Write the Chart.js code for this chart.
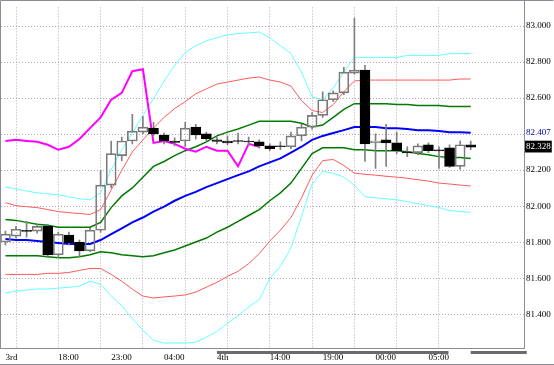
<!DOCTYPE html>
<html><head><meta charset="utf-8">
<script src="https://cdn.jsdelivr.net/npm/chart.js@4/dist/chart.umd.min.js"></script>
<style>html,body{margin:0;padding:0;background:#fff;overflow:hidden}canvas{display:block}</style>
</head><body>
<canvas id="c" width="554" height="365"></canvas>
<script>
// ---- tick labels / categories ----
const timeLabels = ['3rd','18:00','23:00','04:00','4th','14:00','19:00','00:00','05:00'];
const labelIndex = [0,5,10,15,20,25,30,35,40];
const gridIndex  = [1,5,9,13,17,21,25,29,33,37,41];
const yTicks = [81.4,81.6,81.8,82.0,82.2,82.4,82.6,82.8,83.0];
const sessionBars = [[20,41.9],[44,49.3]];

// ---- hourly candles ----
const opens  = [81.801,81.834,81.861,81.861,81.888,81.730,81.839,81.801,81.752,81.866,82.117,82.281,82.362,82.411,82.433,82.395,82.362,82.362,82.439,82.401,82.368,82.362,82.360,82.357,82.357,82.335,82.330,82.330,82.390,82.439,82.504,82.591,82.629,82.738,82.755,82.351,82.368,82.351,82.297,82.297,82.341,82.308,82.324,82.221,82.341];
const highs  = [81.861,81.888,81.916,81.899,81.899,81.856,81.856,81.812,81.877,82.199,82.362,82.384,82.510,82.499,82.466,82.406,82.379,82.466,82.455,82.411,82.384,82.390,82.406,82.384,82.368,82.346,82.357,82.411,82.455,82.520,82.635,82.640,82.771,83.044,82.782,82.401,82.455,82.411,82.330,82.346,82.351,82.330,82.341,82.362,82.362];
const lows   = [81.785,81.823,81.828,81.850,81.714,81.714,81.785,81.719,81.747,81.856,82.101,82.253,82.346,82.401,82.390,82.346,82.335,82.330,82.373,82.362,82.346,82.341,82.346,82.335,82.324,82.308,82.313,82.319,82.362,82.428,82.493,82.580,82.619,82.733,82.248,82.210,82.221,82.292,82.275,82.286,82.297,82.210,82.215,82.204,82.313];
const closes = [81.845,81.872,81.860,81.888,81.730,81.845,81.796,81.752,81.866,82.117,82.292,82.362,82.417,82.439,82.401,82.362,82.354,82.433,82.395,82.373,82.360,82.351,82.359,82.356,82.335,82.319,82.330,82.390,82.439,82.504,82.591,82.629,82.744,82.755,82.346,82.362,82.351,82.308,82.296,82.335,82.308,82.307,82.221,82.341,82.328];

// ---- Bollinger bands ----
const sma = [81.817,81.812,81.812,81.806,81.801,81.796,81.790,81.790,81.790,81.812,81.845,81.877,81.910,81.937,81.970,81.997,82.030,82.057,82.079,82.106,82.128,82.150,82.172,82.193,82.221,82.243,82.265,82.297,82.330,82.368,82.390,82.406,82.422,82.439,82.439,82.439,82.433,82.433,82.428,82.422,82.422,82.417,82.411,82.411,82.407];
const up1 = [81.926,81.921,81.910,81.899,81.894,81.883,81.883,81.883,81.883,81.910,81.992,82.057,82.101,82.161,82.221,82.248,82.281,82.308,82.330,82.357,82.390,82.411,82.428,82.450,82.471,82.471,82.471,82.471,82.460,82.439,82.450,82.493,82.537,82.569,82.569,82.569,82.569,82.564,82.564,82.559,82.559,82.559,82.553,82.553,82.553];
const dn1 = [81.725,81.725,81.725,81.725,81.719,81.714,81.714,81.719,81.730,81.747,81.741,81.730,81.725,81.719,81.725,81.741,81.757,81.779,81.801,81.823,81.856,81.883,81.916,81.948,81.981,82.030,82.074,82.128,82.210,82.292,82.324,82.324,82.324,82.313,82.313,82.308,82.308,82.308,82.302,82.292,82.286,82.275,82.270,82.270,82.264];
const up2 = [82.019,82.003,81.997,81.992,81.981,81.970,81.964,81.959,81.954,81.981,82.090,82.199,82.302,82.368,82.433,82.493,82.542,82.580,82.624,82.651,82.678,82.689,82.700,82.711,82.717,82.700,82.689,82.667,82.586,82.531,82.520,82.564,82.635,82.695,82.700,82.700,82.700,82.700,82.700,82.700,82.700,82.700,82.700,82.706,82.706];
const dn2 = [81.621,81.621,81.621,81.621,81.627,81.627,81.632,81.643,81.654,81.654,81.621,81.583,81.539,81.501,81.490,81.496,81.501,81.507,81.523,81.550,81.577,81.610,81.638,81.681,81.736,81.806,81.866,81.937,82.046,82.172,82.253,82.259,82.226,82.183,82.177,82.172,82.166,82.161,82.155,82.147,82.139,82.128,82.123,82.117,82.112];
const up3 = [82.106,82.095,82.084,82.074,82.068,82.063,82.052,82.041,82.035,82.074,82.204,82.313,82.406,82.504,82.597,82.695,82.782,82.853,82.891,82.918,82.935,82.951,82.959,82.962,82.967,82.935,82.891,82.847,82.744,82.608,82.591,82.657,82.744,82.826,82.826,82.826,82.826,82.826,82.837,82.837,82.837,82.837,82.847,82.847,82.847];
const dn3 = [81.518,81.529,81.534,81.540,81.540,81.545,81.550,81.556,81.583,81.567,81.501,81.447,81.376,81.311,81.256,81.240,81.240,81.240,81.245,81.272,81.305,81.349,81.392,81.441,81.480,81.599,81.665,81.768,81.943,82.123,82.193,82.183,82.161,82.117,82.052,82.046,82.041,82.035,82.025,82.014,82.003,81.992,81.975,81.970,81.965];
// ---- lagging line ----
const lagging = [82.362,82.368,82.362,82.357,82.341,82.313,82.330,82.373,82.433,82.493,82.591,82.629,82.749,82.760,82.351,82.362,82.346,82.319,82.302,82.330,82.308,82.308,82.221,82.346,82.330];

const lastClose = closes[closes.length-1];
const lastSma = sma[sma.length-1];

const pts = arr => arr.map((v,k)=>({x:k,y:v}));
const isUp = i => closes[i] > opens[i];
const bodyTop = i => Math.max(opens[i],closes[i]);
const bodyBot = i => Math.min(opens[i],closes[i]);

const lineDs = (arr,color,w,order)=>({type:'line',data:pts(arr),borderColor:color,borderWidth:w,pointRadius:0,tension:0,order:order,fill:false});

const xTickVals = Array.from(new Set([...labelIndex,...gridIndex])).sort((a,b)=>a-b);
const yTickVals = [...yTicks, lastClose, lastSma].sort((a,b)=>a-b);
const GRID = '#b8a4b8';

const framePlugin = {
  id:'frame',
  afterDraw(chart){
    const {ctx, chartArea:a, scales:{x}} = chart;
    ctx.save();
    ctx.strokeStyle='#8c8c98'; ctx.lineWidth=1;
    ctx.beginPath();
    ctx.moveTo(0.5,0.5); ctx.lineTo(553.5,0.5);
    ctx.moveTo(0.5,0.5); ctx.lineTo(0.5,a.bottom+0.5);
    ctx.moveTo(Math.round(a.right)+0.5,0); ctx.lineTo(Math.round(a.right)+0.5,a.bottom+0.5);
    ctx.moveTo(0,Math.round(a.bottom)+0.5); ctx.lineTo(Math.round(a.right)+1,Math.round(a.bottom)+0.5);
    ctx.moveTo(0,364.5); ctx.lineTo(554,364.5);
    ctx.stroke();
    ctx.strokeStyle='#6a6a6a'; ctx.lineWidth=3;
    ctx.beginPath();
    sessionBars.forEach(([s,e])=>{
      const x1 = x.getPixelForValue(s), x2 = Math.min(x.getPixelForValue(e), 528);
      ctx.moveTo(x1, a.bottom+4.5); ctx.lineTo(x2, a.bottom+4.5);
    });
    ctx.stroke();
    ctx.restore();
  }
};

Chart.defaults.font.family = '"Liberation Serif", serif';
Chart.defaults.font.size = 9;
Chart.defaults.color = '#000';

new Chart(document.getElementById('c'),{
  type:'bar',
  data:{datasets:[
    {type:'bar',data:opens.map((o,i)=>({x:i,y:[bodyBot(i),bodyTop(i)]})),
      backgroundColor:ctx=>isUp(ctx.dataIndex)?'rgba(255,255,255,0)':'#000',
      borderColor:ctx=>isUp(ctx.dataIndex)?'#7a7a7a':'#000',
      borderWidth:1,borderSkipped:false,barThickness:10,minBarLength:1,grouped:false,order:0},
    {type:'bar',data:highs.map((h,i)=>({x:i,y:[bodyTop(i),h]})),
      backgroundColor:'#808080',borderWidth:0,barThickness:1,grouped:false,order:1},
    {type:'bar',data:lows.map((l,i)=>({x:i,y:[l,bodyBot(i)]})),
      backgroundColor:'#808080',borderWidth:0,barThickness:1,grouped:false,order:1},
    lineDs(lagging,'#ff00ff',2,2),
    lineDs(sma,'#0000ff',2,3),
    lineDs(up1,'#007a00',1.5,4),
    lineDs(dn1,'#007a00',1.5,4),
    lineDs(up2,'#ff5a5a',1,5),
    lineDs(dn2,'#ff5a5a',1,5),
    lineDs(up3,'#66ffff',1,6),
    lineDs(dn3,'#66ffff',1,6)
  ]},
  options:{
    responsive:false,animation:false,
    layout:{padding:{left:1,top:1,right:0,bottom:0}},
    plugins:{legend:{display:false},tooltip:{enabled:false}},
    scales:{
      x:{type:'linear',min:-0.42,max:49.04,offset:false,
        afterBuildTicks:s=>{s.ticks = xTickVals.map(v=>({value:v}));},
        afterFit:s=>{s.height=17;},
        grid:{offset:false,color:c=>gridIndex.includes(c.tick && c.tick.value)?GRID:'rgba(0,0,0,0)',drawTicks:false,lineWidth:1},
        border:{display:false,dash:[1,2]},
        ticks:{autoSkip:false,maxRotation:0,align:'start',padding:4,
          callback:v=>{const j=labelIndex.indexOf(v);return j>=0?timeLabels[j]:'';}}
      },
      y:{type:'linear',position:'right',min:81.2125,max:83.1035,
        afterBuildTicks:s=>{s.ticks = yTickVals.map(v=>({value:v}));},
        afterFit:s=>{s.width=30;},
        grid:{color:c=>yTicks.includes(c.tick && c.tick.value)?GRID:'rgba(0,0,0,0)',drawTicks:false,lineWidth:1},
        border:{display:false,dash:[1,2]},
        ticks:{autoSkip:false,padding:2,
          color:c=>c.tick.value===lastSma?'#0000a0':(c.tick.value===lastClose?'#ffffff':'#000'),
          showLabelBackdrop:c=>c.tick.value===lastClose,
          backdropColor:'#000',backdropPadding:{left:1,right:1,top:1,bottom:0},
          callback:v=>{
            if(v!==lastSma && v!==lastClose && (Math.abs(v-lastSma)<0.03)) return '';
            return v.toFixed(3);
          }}
      }
    }
  },
  plugins:[framePlugin]
});
</script>
</body></html>
